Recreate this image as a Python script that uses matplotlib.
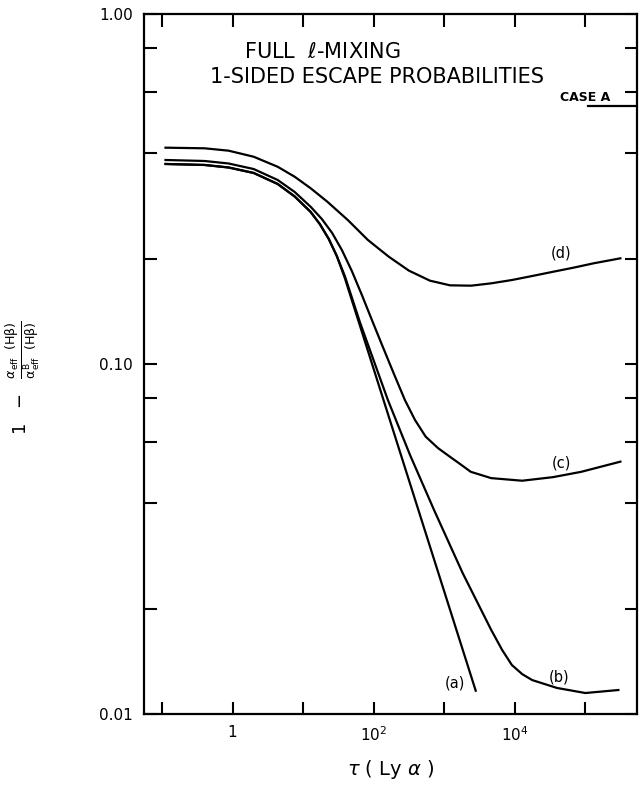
import numpy as np
import matplotlib.pyplot as plt
from matplotlib.ticker import FixedLocator, NullLocator

# curve readings: optical depth tau(Ly alpha) and 1 - alpha_eff/alpha_eff^B
tau_a = [0.112, 0.40, 0.877, 1.99, 4.36, 7.6, 12.8, 17.2, 23.1, 30.0, 39.0,
         2793]
val_a = [0.3728, 0.3704, 0.3643, 0.3514, 0.3268, 0.301, 0.2718, 0.2512,
         0.2276, 0.2035, 0.176, 0.01166]

tau_b = [0.112, 0.40, 0.877, 1.99, 4.36, 7.6, 12.8, 17.2, 23.1, 30.0, 39.0,
         63.7, 159, 327, 716, 1820, 4624, 6620, 9100, 12740, 17660, 39600,
         100000, 294000]
val_b = [0.3728, 0.3704, 0.3643, 0.3514, 0.3268, 0.301, 0.2718, 0.2512,
         0.2276, 0.2035, 0.1784, 0.1318, 0.0789, 0.0550, 0.0383, 0.0253,
         0.0174, 0.01524, 0.0138, 0.0130, 0.0125, 0.01187, 0.01148, 0.01171]

tau_c = [0.112, 0.40, 0.877, 1.99, 4.36, 7.6, 12.8, 18.4, 25.8, 35.4, 49.0,
         68, 94.3, 135, 194, 277, 385, 546, 817, 1208, 1676, 2378, 4624,
         12740, 34700, 87700, 314000]
val_c = [0.3827, 0.3802, 0.374, 0.3606, 0.3355, 0.310, 0.2812, 0.2596,
         0.2367, 0.2117, 0.1844, 0.1575, 0.1336, 0.1118, 0.0936, 0.0789,
         0.0692, 0.0620, 0.0575, 0.0543, 0.0518, 0.0492, 0.0472, 0.0464,
         0.0475, 0.0492, 0.0526]

tau_d = [0.112, 0.40, 0.877, 1.99, 4.36, 7.6, 12.8, 22.0, 43.0, 82.8, 164,
         316, 628, 1208, 2404, 4624, 9180, 17660, 35100, 67500, 132000,
         314000]
val_d = [0.415, 0.4133, 0.4069, 0.391, 0.366, 0.3427, 0.3177, 0.2909,
         0.2578, 0.2261, 0.2025, 0.1848, 0.173, 0.1678, 0.1674, 0.170,
         0.1738, 0.1784, 0.1835, 0.1884, 0.194, 0.2004]

case_a = 0.546

x_ticks = [0.1, 1, 10, 100, 1000, 1e4, 1e5]
x_labels = ['', '1', '', '$10^2$', '', '$10^4$', '']
y_ticks = [0.01, 0.02, 0.04, 0.06, 0.08, 0.1, 0.2, 0.4, 0.6, 0.8, 1.0]
y_labels = ['0.01', '', '', '', '', '0.10', '', '', '', '', '1.00']

fig = plt.figure(figsize=(6.42, 7.86), dpi=100)
ax = fig.add_axes([0.2243, 0.0916, 0.7679, 0.8906])

for t, v in [(tau_a, val_a), (tau_b, val_b), (tau_c, val_c), (tau_d, val_d)]:
    ax.plot(t, v, color='black', lw=1.6, solid_joinstyle='round')

ax.set_xscale('log')
ax.set_yscale('log')
ax.set_xlim(0.0555, 5.4e5)
ax.set_ylim(0.01, 1.0)

ax.xaxis.set_major_locator(FixedLocator(x_ticks))
ax.xaxis.set_minor_locator(NullLocator())
ax.set_xticklabels(x_labels)
ax.yaxis.set_major_locator(FixedLocator(y_ticks))
ax.yaxis.set_minor_locator(NullLocator())
ax.set_yticklabels(y_labels)

ax.tick_params(direction='in', length=9, width=1.5, top=True, right=True,
               labelsize=11, pad=8)
for s in ax.spines.values():
    s.set_linewidth(1.6)

ax.axhline(case_a, xmin=0.9, xmax=1.0, color='black', lw=1.6)

ax.text(0.894, 0.881, 'CASE A', transform=ax.transAxes, ha='center',
        va='center', fontsize=9, fontweight='bold')
ax.text(0.361, 0.946, 'FULL  $\\ell$-MIXING', transform=ax.transAxes,
        ha='center', va='center', fontsize=15)
ax.text(0.472, 0.91, '1-SIDED ESCAPE PROBABILITIES', transform=ax.transAxes,
        ha='center', va='center', fontsize=15)

for lab, xf, yf in [('(a)', 0.631, 0.044), ('(b)', 0.842, 0.053),
                    ('(c)', 0.846, 0.359), ('(d)', 0.846, 0.659)]:
    ax.text(xf, yf, lab, transform=ax.transAxes, ha='center', va='center',
            fontsize=10.5)

ax.set_xlabel('$\\tau$ ( Ly $\\alpha$ )', fontsize=14, labelpad=10)
ax.set_ylabel('$1\\ \\ -\\ \\ \\frac{\\alpha_{\\rm eff}\\ \\ (\\rm H\\beta)}'
              '{\\alpha^{\\rm B}_{\\rm eff}\\ \\ (\\rm H\\beta)}$',
              fontsize=13)
ax.yaxis.set_label_coords(-0.207, 0.481)

fig.savefig('out.png', dpi=100)
